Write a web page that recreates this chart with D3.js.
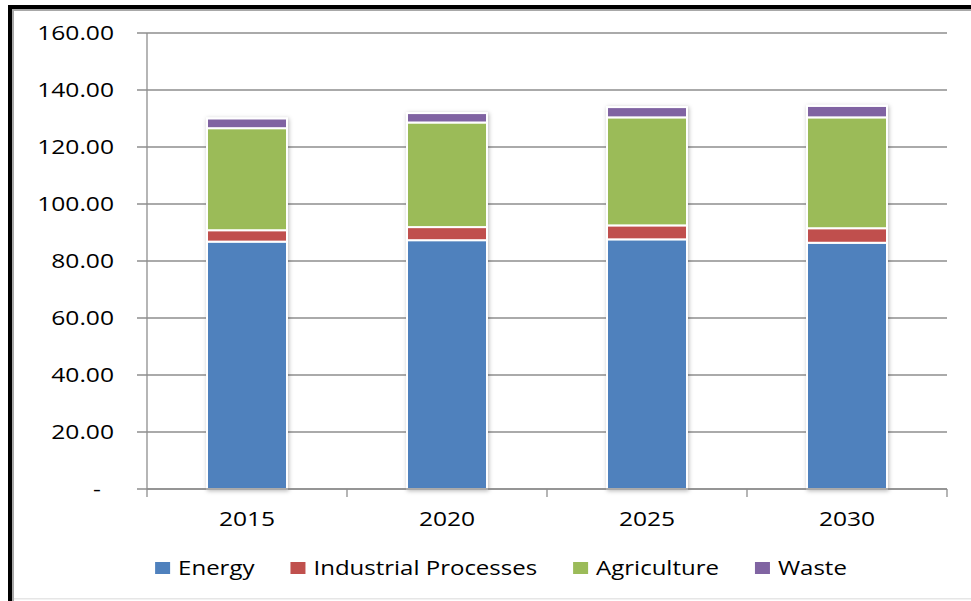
<!DOCTYPE html>
<html>
<head>
<meta charset="utf-8">
<script src="https://cdn.jsdelivr.net/npm/d3@7/dist/d3.min.js"></script>
<style>
  html, body { margin: 0; padding: 0; background: #ffffff; }
  svg { display: block; }
  text { font-family: "Open Sans", "Noto Sans", sans-serif; fill: #000; }
</style>
</head>
<body>
<svg id="chart" width="971" height="601"></svg>
<script>
// Emissions by sector, stacked per projection year
const years       = ["2015", "2020", "2025", "2030"];
const energy      = [86.8, 87.3, 87.6, 86.4];
const industrial  = [4.0, 4.6, 4.9, 5.1];
const agriculture = [35.8, 36.7, 37.9, 38.9];
const waste       = [3.4, 3.3, 3.6, 4.0];
const seriesNames = ["Energy", "Industrial Processes", "Agriculture", "Waste"];
const yTicks      = [0, 20, 40, 60, 80, 100, 120, 140, 160];

const colors = ["#4F81BD", "#C0504D", "#9BBB59", "#8064A2"];
const FONT = 20, SX = 1.23;           // font size and horizontal text stretch

const svg = d3.select("#chart");
const W = 971, H = 601;

// frame: heavy top/left rule with a thin inner grey line, faint bottom rule
svg.append("rect").attr("x", 8).attr("y", 5).attr("width", W - 8).attr("height", 4).attr("fill", "#000");
svg.append("rect").attr("x", 8).attr("y", 5).attr("width", 4).attr("height", H - 5).attr("fill", "#000");
svg.append("rect").attr("x", 12).attr("y", 9).attr("width", W - 12).attr("height", 2).attr("fill", "#a8a8a8");
svg.append("rect").attr("x", 12).attr("y", 9).attr("width", 2).attr("height", H - 9).attr("fill", "#a8a8a8");
svg.append("rect").attr("x", 14).attr("y", 598).attr("width", W - 14).attr("height", 1.5).attr("fill", "#e6e6e6");

const plot = { left: 147, right: 947, top: 33, bottom: 489 };

const x = d3.scaleBand().domain(years).range([plot.left, plot.right])
  .paddingInner(0.6).paddingOuter(0.3);
const y = d3.scaleLinear().domain([0, 160]).range([plot.bottom, plot.top]);

const defs = svg.append("defs");
const f = defs.append("filter").attr("id", "barShadow")
  .attr("x", "-20%").attr("y", "-20%").attr("width", "140%").attr("height", "140%");
f.append("feDropShadow").attr("dx", 1).attr("dy", 1).attr("stdDeviation", 2)
  .attr("flood-color", "#000").attr("flood-opacity", 0.28);

const gridColor = "#8e8e8e";

// horizontal gridlines with left tick stubs
svg.append("g").selectAll("line").data(yTicks).join("line")
  .attr("x1", plot.left - 10).attr("x2", plot.right)
  .attr("y1", d => y(d)).attr("y2", d => y(d))
  .attr("stroke", gridColor).attr("stroke-width", 1.3);

// y-axis line
svg.append("line").attr("x1", plot.left).attr("x2", plot.left)
  .attr("y1", y(160)).attr("y2", y(0))
  .attr("stroke", gridColor).attr("stroke-width", 1.3);

// y tick labels
const fmt = d => d === 0 ? "-" : d.toFixed(2);
svg.append("g").selectAll("text").data(yTicks).join("text")
  .attr("text-anchor", "end")
  .attr("dy", "0.36em")
  .attr("font-size", FONT)
  .attr("transform", d => `translate(${d === 0 ? 101 : 114},${y(d)}) scale(${SX},1)`)
  .text(fmt);

// stacked bars
const table = years.map((yr, i) => ({
  year: yr,
  Energy: energy[i],
  "Industrial Processes": industrial[i],
  Agriculture: agriculture[i],
  Waste: waste[i]
}));
const stacked = d3.stack().keys(seriesNames)(table);

const groups = svg.append("g").selectAll("g").data(years).join("g")
  .attr("filter", "url(#barShadow)");
groups.selectAll("rect")
  .data((yr, i) => stacked.map((s, k) => ({ yr, k, v: s[i] })))
  .join("rect")
  .attr("x", d => x(d.yr))
  .attr("width", x.bandwidth())
  .attr("y", d => y(d.v[1]))
  .attr("height", d => y(d.v[0]) - y(d.v[1]))
  .attr("fill", d => colors[d.k])
  .attr("stroke", "#ffffff")
  .attr("stroke-width", 2);

// x-axis line and boundary ticks
const step = x.step();
const bounds = years.map(yr => x(yr) - (step - x.bandwidth()) / 2).concat([plot.right]);
svg.append("line").attr("x1", plot.left).attr("x2", plot.right)
  .attr("y1", plot.bottom).attr("y2", plot.bottom)
  .attr("stroke", gridColor).attr("stroke-width", 1.3);
svg.append("g").selectAll("line").data(bounds).join("line")
  .attr("x1", d => d).attr("x2", d => d)
  .attr("y1", plot.bottom).attr("y2", plot.bottom + 8)
  .attr("stroke", gridColor).attr("stroke-width", 1.3);

// category labels
svg.append("g").selectAll("text").data(years).join("text")
  .attr("text-anchor", "middle")
  .attr("dy", "0.36em")
  .attr("font-size", FONT)
  .attr("transform", d => `translate(${x(d) + x.bandwidth() / 2},519) scale(${SX},1)`)
  .text(d => d);

// legend
const legend = svg.append("g");
const legendY = 568, GAP = 36, LSX = 1.2;
let cursor = 0;
seriesNames.forEach((name, k) => {
  const g = legend.append("g");
  g.append("rect").attr("x", 0).attr("y", legendY - 6).attr("width", 15).attr("height", 12)
    .attr("fill", colors[k]);
  const t = g.append("text").attr("dy", "0.36em").attr("font-size", FONT)
    .attr("transform", `translate(23,${legendY}) scale(${LSX},1)`).text(name);
  const w = 23 + t.node().getComputedTextLength() * LSX;
  g.attr("transform", `translate(${cursor},0)`);
  cursor += w + GAP;
});
const legendWidth = cursor - GAP;
legend.attr("transform", `translate(${501 - legendWidth / 2},0)`);
</script>
</body>
</html>
